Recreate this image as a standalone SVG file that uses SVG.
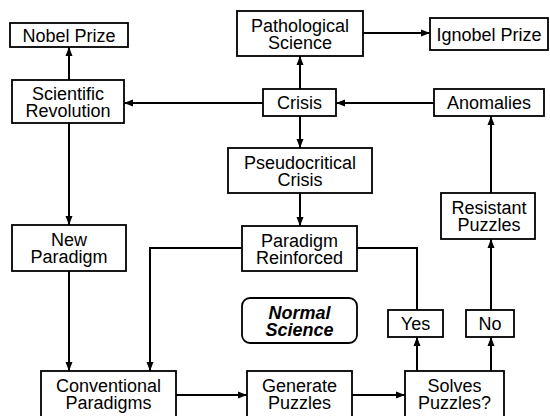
<svg xmlns="http://www.w3.org/2000/svg" width="550" height="416" viewBox="0 0 550 416">
<defs>
<marker id="ah" markerWidth="10" markerHeight="8" refX="9" refY="4" orient="auto" markerUnits="userSpaceOnUse">
<path d="M0,0.5 L9,4 L0,7.5 Z" fill="#000"/>
</marker>
<style>
.b{fill:#fff;stroke:#000;stroke-width:1.8}
.t{font-family:"Liberation Sans",Arial,sans-serif;font-size:18px;fill:#000;text-anchor:middle}
.i{font-weight:bold;font-style:italic}
.c{fill:none;stroke:#000;stroke-width:2}
.a{marker-end:url(#ah)}
</style>
</defs>
<rect width="550" height="416" fill="#fff"/>
<g id="connectors">
<line class="c a" x1="69" y1="80" x2="69" y2="47"/>
<line class="c a" x1="263" y1="103" x2="124" y2="103"/>
<line class="c a" x1="300" y1="89" x2="300" y2="56"/>
<line class="c a" x1="363" y1="33" x2="430" y2="33"/>
<line class="c a" x1="434" y1="103" x2="336" y2="103"/>
<line class="c a" x1="300" y1="116" x2="300" y2="148"/>
<line class="c a" x1="300" y1="193" x2="300" y2="226"/>
<line class="c a" x1="69" y1="123" x2="69" y2="225"/>
<line class="c a" x1="69" y1="271" x2="69" y2="371"/>
<path class="c a" d="M242,248 H150 V371"/>
<line class="c a" x1="176" y1="395" x2="247" y2="395"/>
<line class="c a" x1="352" y1="395" x2="405" y2="395"/>
<line class="c a" x1="417" y1="371" x2="417" y2="337"/>
<line class="c a" x1="491" y1="371" x2="491" y2="337"/>
<path class="c" d="M417,310 V248 H357"/>
<line class="c a" x1="491" y1="310" x2="491" y2="239"/>
<line class="c a" x1="491" y1="193" x2="491" y2="116"/>
</g>
<g id="nobel"><rect class="b" x="10" y="23" width="118" height="24"/><text class="t" x="69" y="41.5">Nobel Prize</text></g>
<g id="scirev"><rect class="b" x="12" y="80" width="112" height="43"/><text class="t" x="68" y="100">Scientific</text><text class="t" x="68" y="117">Revolution</text></g>
<g id="patho"><rect class="b" x="237" y="11" width="126" height="45"/><text class="t" x="300" y="31.5">Pathological</text><text class="t" x="300" y="48.5">Science</text></g>
<g id="ignobel"><rect class="b" x="430" y="18" width="118" height="32"/><text class="t" x="489" y="40.5">Ignobel Prize</text></g>
<g id="crisis"><rect class="b" x="263" y="89" width="73" height="27"/><text class="t" x="299.5" y="109">Crisis</text></g>
<g id="anomalies"><rect class="b" x="434" y="89" width="110" height="27"/><text class="t" x="489" y="109">Anomalies</text></g>
<g id="pseudo"><rect class="b" x="228" y="148" width="144" height="45"/><text class="t" x="300" y="168.5">Pseudocritical</text><text class="t" x="300" y="185.5">Crisis</text></g>
<g id="resistant"><rect class="b" x="441" y="193" width="94" height="46"/><text class="t" x="489" y="214">Resistant</text><text class="t" x="489" y="231">Puzzles</text></g>
<g id="newparadigm"><rect class="b" x="12" y="225" width="114" height="46"/><text class="t" x="69" y="246">New</text><text class="t" x="69" y="263">Paradigm</text></g>
<g id="reinforced"><rect class="b" x="242" y="226" width="115" height="45"/><text class="t" x="299.5" y="246.5">Paradigm</text><text class="t" x="299.5" y="263.5">Reinforced</text></g>
<g id="normal"><rect class="b" x="242" y="298" width="115" height="45" rx="8"/><text class="t i" x="299.5" y="318.5">Normal</text><text class="t i" x="299.5" y="335.5">Science</text></g>
<g id="yes"><rect class="b" x="388" y="310" width="55" height="27"/><text class="t" x="415.5" y="330">Yes</text></g>
<g id="no"><rect class="b" x="466" y="310" width="48" height="27"/><text class="t" x="490" y="330">No</text></g>
<g id="conventional"><rect class="b" x="41" y="371" width="135" height="50"/><text class="t" x="108.5" y="392">Conventional</text><text class="t" x="108.5" y="409">Paradigms</text></g>
<g id="generate"><rect class="b" x="247" y="371" width="105" height="50"/><text class="t" x="299.5" y="392">Generate</text><text class="t" x="299.5" y="409">Puzzles</text></g>
<g id="solves"><rect class="b" x="405" y="371" width="99" height="50"/><text class="t" x="454.5" y="392">Solves</text><text class="t" x="454.5" y="409">Puzzles?</text></g>
</svg>
